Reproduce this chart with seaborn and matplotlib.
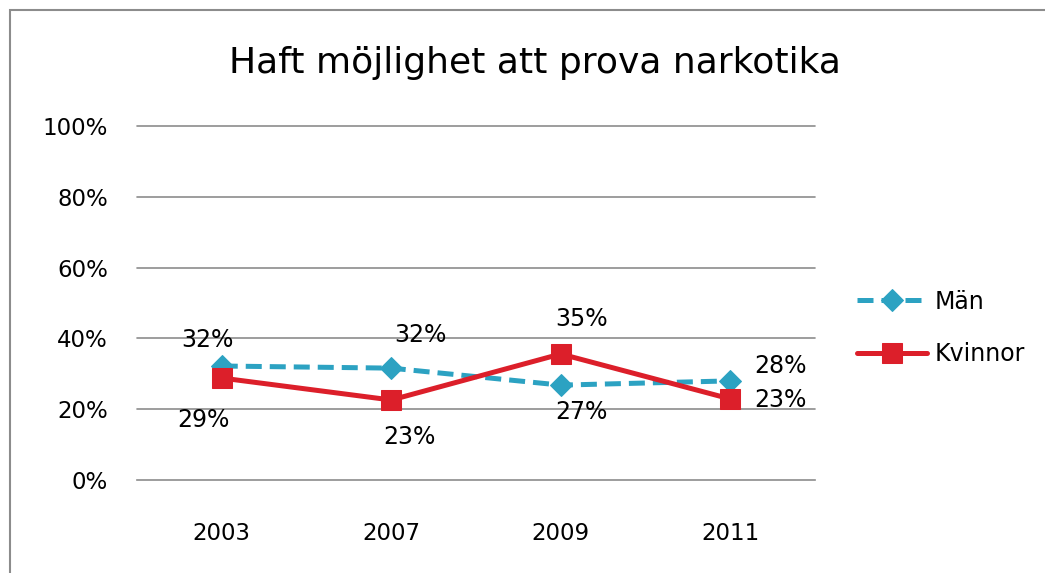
import seaborn as sns
import matplotlib.pyplot as plt
import matplotlib.patches as mpatches
import pandas as pd

# data
years = ["2003", "2007", "2009", "2011"]
man = [32, 32, 27, 28]
kvinnor = [29, 23, 35, 23]
man_plot = [32.2, 31.6, 26.8, 28.0]
kvinnor_plot = [28.8, 22.6, 35.6, 22.9]

df = pd.DataFrame({
    "year": years * 2,
    "value": man_plot + kvinnor_plot,
    "group": ["Män"] * 4 + ["Kvinnor"] * 4,
})

sns.set_style("white")
plt.rcParams["font.family"] = ["DejaVu Sans"]
plt.rcParams["text.color"] = "black"
plt.rcParams["xtick.color"] = "black"
plt.rcParams["ytick.color"] = "black"

fig = plt.figure(figsize=(10.45, 5.73), dpi=100)
ax = fig.add_axes([137 / 1045, 1 - 480 / 573, 678 / 1045, 354 / 573])

blue = "#2CA2C2"
red = "#DC1F2A"

sns.lineplot(data=df[df.group == "Män"], x="year", y="value", ax=ax, color=blue,
             linestyle=(0, (3.2, 1.6)), linewidth=3.6, marker="D", markersize=11,
             markeredgecolor=blue, label="Män", sort=False)
sns.lineplot(data=df[df.group == "Kvinnor"], x="year", y="value", ax=ax, color=red,
             linewidth=3.6, marker="s", markersize=14, markeredgecolor=red,
             label="Kvinnor", sort=False)

ax.set_xlim(-0.5, 3.5)
ax.set_ylim(0, 100)
ax.set_yticks(range(0, 101, 20))
ax.set_yticklabels([f"{v}%" for v in range(0, 101, 20)], fontsize=16.5)
ax.tick_params(axis="x", labelsize=16.5, pad=30, length=0)
ax.tick_params(axis="y", length=0, pad=21)
ax.set_xlabel("")
ax.set_ylabel("")
for v in range(20, 101, 20):
    ax.axhline(v, color="#8c8c8c", lw=1.2, zorder=0, clip_on=False)
for s in ["top", "right", "left"]:
    ax.spines[s].set_visible(False)
ax.spines["bottom"].set_color("#8c8c8c")
ax.spines["bottom"].set_linewidth(1.2)

# data labels (offsets in points)
man_off = [(-10, 19), (21, 24), (15, -19), (36, 11)]
kv_off = [(-13, -30), (13, -27), (15, 25), (36, -1)]
for i in range(4):
    ax.annotate(f"{man[i]}%", (i, man_plot[i]), xytext=man_off[i], textcoords="offset points",
                ha="center", va="center", fontsize=17)
    ax.annotate(f"{kvinnor[i]}%", (i, kvinnor_plot[i]), xytext=kv_off[i], textcoords="offset points",
                ha="center", va="center", fontsize=17)

ax.legend(loc="center left", bbox_to_anchor=(1.03, 0.43), frameon=False, fontsize=17,
          handlelength=3.0, handletextpad=0.3, labelspacing=1.2)

fig.suptitle("Haft möjlighet att prova narkotika", fontsize=26, x=0.512, y=0.92)

# chart frame
fig.patches.append(mpatches.Rectangle((10 / 1045, -0.1), 1.2, 1 - 10 / 573 + 0.1,
                                      transform=fig.transFigure, fill=False,
                                      edgecolor="#8c8c8c", lw=1.5))

fig.savefig("out.png", dpi=100)
